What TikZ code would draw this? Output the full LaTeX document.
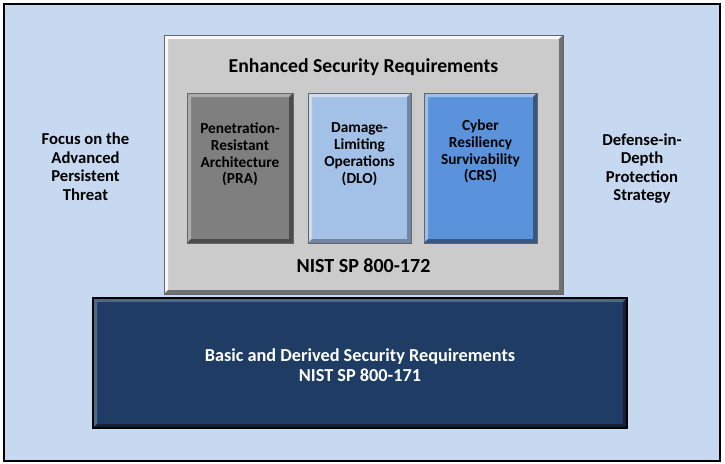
\documentclass[tikz,border=0pt]{standalone}
\usepackage{fontspec}
\setmainfont{Carlito}
\definecolor{skyback}{HTML}{C6D9F1}
\definecolor{panelgray}{HTML}{CBCBCB}
\definecolor{pragray}{HTML}{7F7F7F}
\definecolor{dloblue}{HTML}{A3C0E6}
\definecolor{crsblue}{HTML}{5A93DB}
\definecolor{basenavy}{HTML}{1E3C64}
\tikzset{
  bevel/.style n args={3}{fill=#1, draw=black!60, line width=0.5pt,
    path picture={
      \fill[#2] (path picture bounding box.north west) -- (path picture bounding box.north east)
        -- ([shift={(-3pt,-3pt)}]path picture bounding box.north east)
        -- ([shift={(3pt,-3pt)}]path picture bounding box.north west)
        -- ([shift={(3pt,3pt)}]path picture bounding box.south west)
        -- (path picture bounding box.south west) -- cycle;
      \fill[#3] (path picture bounding box.south east) -- (path picture bounding box.south west)
        -- ([shift={(3pt,3pt)}]path picture bounding box.south west)
        -- ([shift={(-3pt,3pt)}]path picture bounding box.south east)
        -- ([shift={(-3pt,-3pt)}]path picture bounding box.north east)
        -- (path picture bounding box.north east) -- cycle;
    }},
  pillar/.style={minimum height=112.5pt, inner sep=0pt},
  pillartext/.style={anchor=north, align=center, font=\fontsize{11.5}{12.6}\selectfont\bfseries},
  sidetext/.style={align=center, font=\fontsize{12.5}{13.9}\selectfont\bfseries}
}
\begin{document}
\begin{tikzpicture}[x=0.75pt,y=-0.75pt]
\useasboundingbox (0,0) rectangle (725,464);
%\draw[step=50,gray!40](0,0) grid (725,464);
\draw[fill=skyback,line width=1.1pt] (4,4) rectangle (720,461);
% enhanced requirements panel
\node[bevel={panelgray}{white!85!panelgray}{black!45!panelgray}, minimum width=299.25pt, minimum height=194.25pt] (esr) at (363.5,164.5) {};
\node[font=\fontsize{14.8}{16}\selectfont\bfseries] (esrtitle) at (363.5,67) {Enhanced Security Requirements};
\node[font=\fontsize{15}{16}\selectfont\bfseries] (sp172) at (363.5,266) {NIST SP 800-172};
\node[bevel={pragray}{white!35!pragray}{black!40!pragray}, pillar, minimum width=79.5pt] (pra) at (240,168) {};
\node[bevel={dloblue}{white!45!dloblue}{black!30!dloblue}, pillar, minimum width=77.25pt] (dlo) at (359.5,168) {};
\node[bevel={crsblue}{white!40!crsblue}{black!40!crsblue}, pillar, minimum width=84.75pt] (crs) at (480.5,168) {};
\node[pillartext] (pratext) at (240,118) {Penetration-\\Resistant\\Architecture\\(PRA)};
\node[pillartext] (dlotext) at (359.5,118) {Damage-\\Limiting\\Operations\\(DLO)};
\node[pillartext] (crstext) at (480.5,115) {Cyber\\Resiliency\\Survivability\\(CRS)};
% basic requirements base
\node[bevel={basenavy}{white!22!basenavy}{black!45!basenavy}, draw=black, line width=1pt, minimum width=400.5pt, minimum height=97.5pt] (base) at (360,363) {};
\node[align=center, text=white, font=\fontsize{13.7}{15}\selectfont\bfseries] (basetext) at (360,365) {Basic and Derived Security Requirements\\NIST SP 800-171};
% side labels
\node[sidetext] (focus) at (85.5,166.5) {Focus on the\\Advanced\\Persistent\\Threat};
\node[sidetext] (defense) at (642,168.5) {Defense-in-\\Depth\\Protection\\Strategy};
\end{tikzpicture}
\end{document}
